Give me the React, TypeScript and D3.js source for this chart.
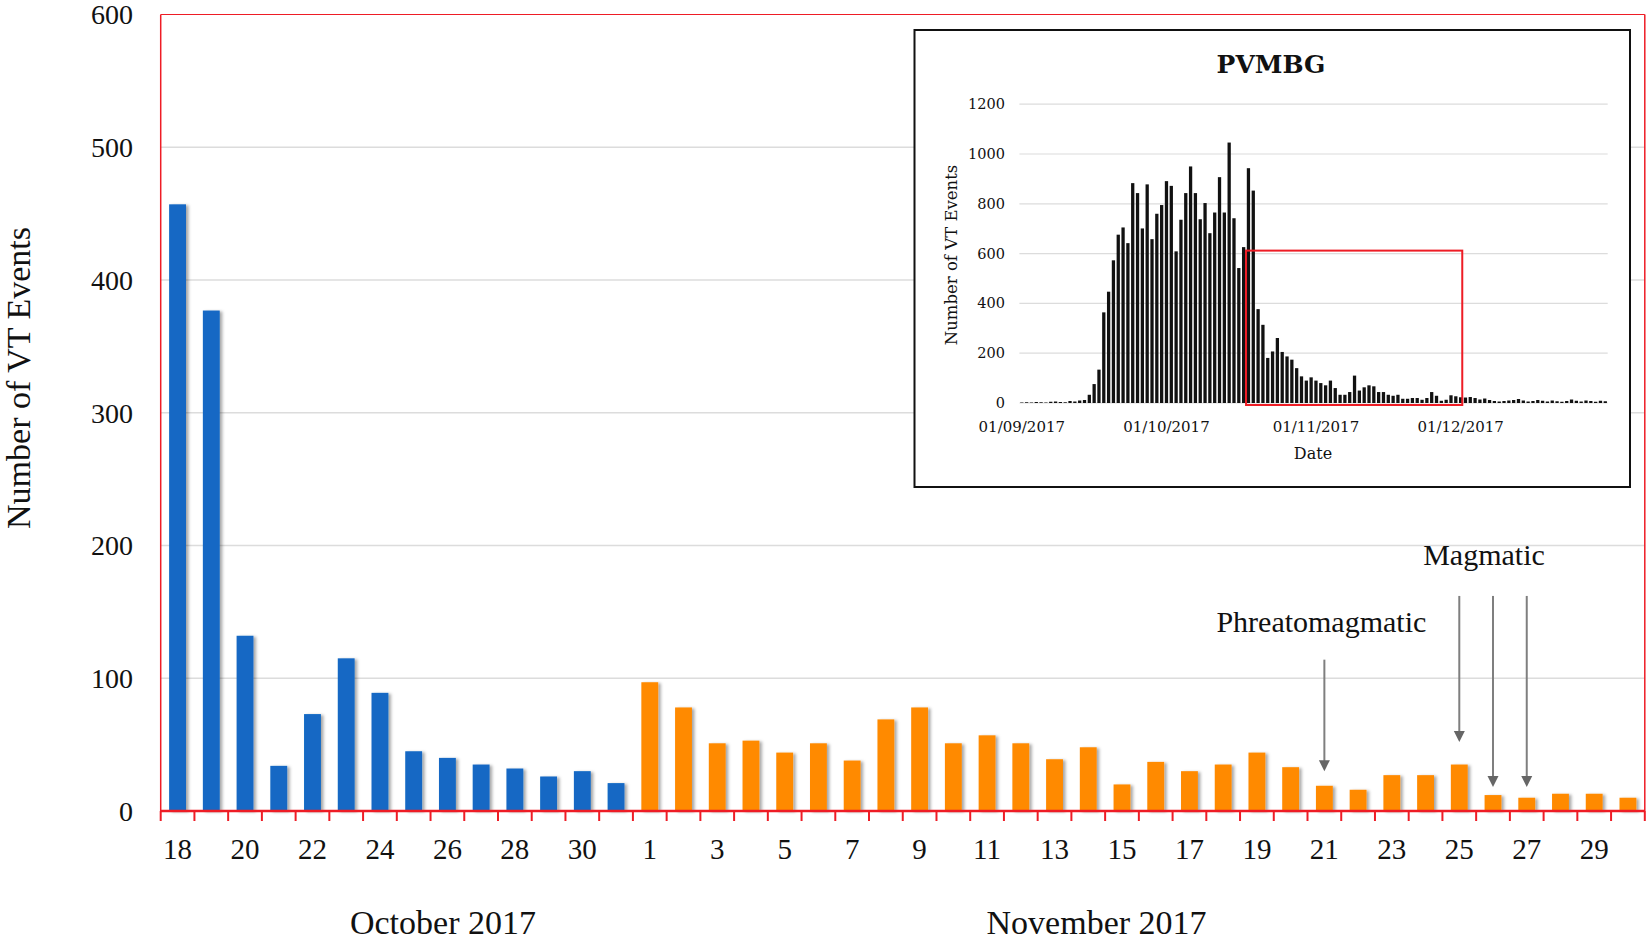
import React from "react";
import * as d3 from "d3";

// main chart: daily VT event counts, 18 Oct - 30 Nov 2017
const octoberDays = [18, 19, 20, 21, 22, 23, 24, 25, 26, 27, 28, 29, 30, 31];
const octoberCounts = [457, 377, 132, 34, 73, 115, 89, 45, 40, 35, 32, 26, 30, 21];
const novemberDays = [1, 2, 3, 4, 5, 6, 7, 8, 9, 10, 11, 12, 13, 14, 15, 16, 17, 18, 19, 20, 21, 22, 23, 24, 25, 26, 27, 28, 29, 30];
const novemberCounts = [97, 78, 51, 53, 44, 51, 38, 69, 78, 51, 57, 51, 39, 48, 20, 37, 30, 35, 44, 33, 19, 16, 27, 27, 35, 12, 10, 13, 13, 10];
const mainYTicks = [0, 100, 200, 300, 400, 500, 600];

// eruption annotations (day key, arrow tip value)
const phreatoDays = ["Nov-21"];
const phreatoTips = [30];
const magmaticDays = ["Nov-25", "Nov-26", "Nov-27"];
const magmaticTips = [52, 18, 18];

// inset: PVMBG daily counts, 1 Sep - 31 Dec 2017
const pvmbgCounts = [
  2, 3, 2, 4, 3, 2, 5, 6, 4, 3, 8, 6, 10, 12,
  33, 76, 134, 364, 447, 573, 676, 705, 642, 883, 843, 701, 878, 658, 760, 795,
  891, 872, 609, 736, 843, 950, 843, 738, 803, 682, 765, 907, 765, 1046, 742, 542,
  626, 943, 853, 377, 314,
  181, 207, 261, 205, 187, 174, 140, 107, 90, 103, 90, 80, 71, 90, 60, 33, 33, 44,
  110, 50, 63, 71, 67, 44, 44, 33, 29, 33, 17, 17, 20, 20, 13, 20, 44, 29, 9, 13,
  31, 27, 23,
  22, 24, 20, 14, 18, 12, 8, 6, 8, 10, 12, 16, 10, 6, 8, 12, 9, 6, 10, 7, 5, 8, 14,
  9, 6, 10, 8, 5, 9, 7,
];
const insetYTicks = [0, 200, 400, 600, 800, 1000, 1200];
const insetXTicks = ["2017-09-01", "2017-10-01", "2017-11-01", "2017-12-01"];
const zoomFrom = "2017-10-18";
const zoomTo = "2017-12-01";
const zoomTop = 612;

const serif = "'Liberation Serif', 'Times New Roman', serif";
const slab = "'DejaVu Serif', serif";
const red = "#ee1c25";
const blue = "#1268c4";
const orange = "#ff8a00";
const grid = "#dcdcdc";
const arrowGray = "#7f7f7f";

export default function App() {
  const mainData = [
    ...octoberDays.map((d, i) => ({ key: `Oct-${d}`, day: d, value: octoberCounts[i], color: blue })),
    ...novemberDays.map((d, i) => ({ key: `Nov-${d}`, day: d, value: novemberCounts[i], color: orange })),
  ];

  const left = 160.7, right = 1644.8, top = 14.5, bottom = 811;
  const x = d3.scaleBand().domain(mainData.map((d) => d.key)).range([left, right]).paddingInner(0.5).paddingOuter(0.25);
  const y = d3.scaleLinear().domain([0, 600]).range([bottom, top]);
  const step = x.step();
  const cx = (k: string) => (x(k) ?? 0) + x.bandwidth() / 2;

  // inset scales
  const fmtKey = d3.timeFormat("%Y-%m-%d");
  const fmtLabel = d3.timeFormat("%d/%m/%Y");
  const parse = d3.timeParse("%Y-%m-%d");
  const days = d3.timeDay.range(new Date(2017, 8, 1), new Date(2018, 0, 1));
  const insetData = days.map((d, i) => ({ key: fmtKey(d), date: d, value: pvmbgCounts[i] ?? 0 }));
  const xi = d3.scaleBand().domain(insetData.map((d) => d.key)).range([1019.4, 1607.7]).paddingInner(0.32).paddingOuter(0.16);
  const yi = d3.scaleLinear().domain([0, 1200]).range([403, 104.2]);
  const boxL = 914.5, boxT = 30, boxR = 1630, boxB = 487;

  const arrow = (key: string, tipVal: number, topVal: number, i: number) => {
    const ax = cx(key);
    const tip = y(tipVal);
    const y0 = y(topVal);
    return (
      <g key={key + i}>
        <line x1={ax} x2={ax} y1={y0} y2={tip - 9} stroke={arrowGray} strokeWidth={2} />
        <path d={`M${ax - 5.5},${tip - 11}L${ax + 5.5},${tip - 11}L${ax},${tip}Z`} fill="#666" />
      </g>
    );
  };

  return (
    <svg width={1650} height={940} style={{ position: "absolute", left: 0, top: 0, background: "#fff" }}>
      <defs>
        <filter id="shadow" x="-30%" y="-10%" width="170%" height="120%">
          <feDropShadow dx={2.5} dy={1} stdDeviation={1.5} floodColor="#000" floodOpacity={0.35} />
        </filter>
      </defs>

      {/* gridlines */}
      {mainYTicks.filter((t) => t > 0 && t < 600).map((t) => (
        <line key={t} x1={left} x2={right} y1={y(t)} y2={y(t)} stroke={grid} strokeWidth={1.5} />
      ))}

      {/* bars */}
      <g filter="url(#shadow)">
        {mainData.map((d) => (
          <rect key={d.key} x={x(d.key)} y={y(d.value)} width={x.bandwidth()} height={bottom - y(d.value)} fill={d.color} />
        ))}
      </g>

      {/* frame */}
      <line x1={left} x2={right} y1={top} y2={top} stroke={red} strokeWidth={1.2} />
      <line x1={left} x2={left} y1={top} y2={bottom} stroke={red} strokeWidth={1.5} />
      <line x1={right} x2={right} y1={top} y2={bottom} stroke={red} strokeWidth={1.5} />
      <line x1={left} x2={right} y1={bottom} y2={bottom} stroke={red} strokeWidth={2.5} />
      {d3.range(mainData.length + 1).map((i) => (
        <line key={i} x1={left + i * step} x2={left + i * step} y1={bottom} y2={bottom + 10} stroke={red} strokeWidth={2} />
      ))}

      {/* y tick labels */}
      {mainYTicks.map((t) => (
        <text key={t} x={133} y={y(t)} dy="0.35em" textAnchor="end" fontFamily={serif} fontSize={28} fill="#111">
          {t}
        </text>
      ))}
      <text transform={`translate(30,378) rotate(-90)`} textAnchor="middle" fontFamily={serif} fontSize={34} fill="#111">
        Number of VT Events
      </text>

      {/* x tick labels, every other day */}
      {mainData.filter((_, i) => i % 2 === 0).map((d) => (
        <text key={d.key} x={cx(d.key)} y={859} textAnchor="middle" fontFamily={serif} fontSize={29} fill="#111">
          {d.day}
        </text>
      ))}
      <text x={(x("Oct-26") ?? 0) + 4} y={934} textAnchor="middle" fontFamily={serif} fontSize={34} fill="#111">
        October 2017
      </text>
      <text x={(x("Nov-15") ?? 0) - 17} y={934} textAnchor="middle" fontFamily={serif} fontSize={34} fill="#111">
        November 2017
      </text>

      {/* annotations */}
      <text x={cx(phreatoDays[0]) - 3} y={y(135)} textAnchor="middle" fontFamily={serif} fontSize={30} fill="#111">
        Phreatomagmatic
      </text>
      {phreatoDays.map((k, i) => arrow(k, phreatoTips[i], 114, i))}
      <text x={cx("Nov-26") - 9} y={y(185)} textAnchor="middle" fontFamily={serif} fontSize={30} fill="#111">
        Magmatic
      </text>
      {magmaticDays.map((k, i) => arrow(k, magmaticTips[i], 162, i))}

      {/* inset */}
      <rect x={boxL} y={boxT} width={boxR - boxL} height={boxB - boxT} fill="#fff" stroke="#111" strokeWidth={2} />
      <text x={1271} y={73} textAnchor="middle" fontFamily={slab} fontWeight="bold" fontSize={25} fill="#111">
        PVMBG
      </text>
      {insetYTicks.map((t) => (
        <g key={t}>
          <line x1={1019.4} x2={1607.7} y1={yi(t)} y2={yi(t)} stroke={grid} strokeWidth={1.2} />
          <text x={1005} y={yi(t)} dy="0.35em" textAnchor="end" fontFamily={slab} fontSize={14.5} fill="#111">
            {t}
          </text>
        </g>
      ))}
      {insetData.map((d) => (
        <rect key={d.key} x={xi(d.key)} y={yi(d.value)} width={xi.bandwidth()} height={yi(0) - yi(d.value)} fill="#111" />
      ))}
      {insetXTicks.map((k) => (
        <text key={k} x={(xi(k) ?? 0) + xi.bandwidth() / 2} y={432} textAnchor="middle" fontFamily={slab} fontSize={15} fill="#111">
          {fmtLabel(parse(k) as Date)}
        </text>
      ))}
      <text x={1313} y={459} textAnchor="middle" fontFamily={slab} fontSize={16} fill="#111">
        Date
      </text>
      <text transform={`translate(957,255) rotate(-90)`} textAnchor="middle" fontFamily={slab} fontSize={16.5} fill="#111">
        Number of VT Events
      </text>
      <rect
        x={(xi(zoomFrom) ?? 0) - xi.step() * 0.16}
        y={yi(zoomTop)}
        width={(xi(zoomTo) ?? 0) + xi.bandwidth() - (xi(zoomFrom) ?? 0) + xi.step() * 0.16}
        height={yi(0) + 2 - yi(zoomTop)}
        fill="none"
        stroke={red}
        strokeWidth={2}
      />
    </svg>
  );
}
